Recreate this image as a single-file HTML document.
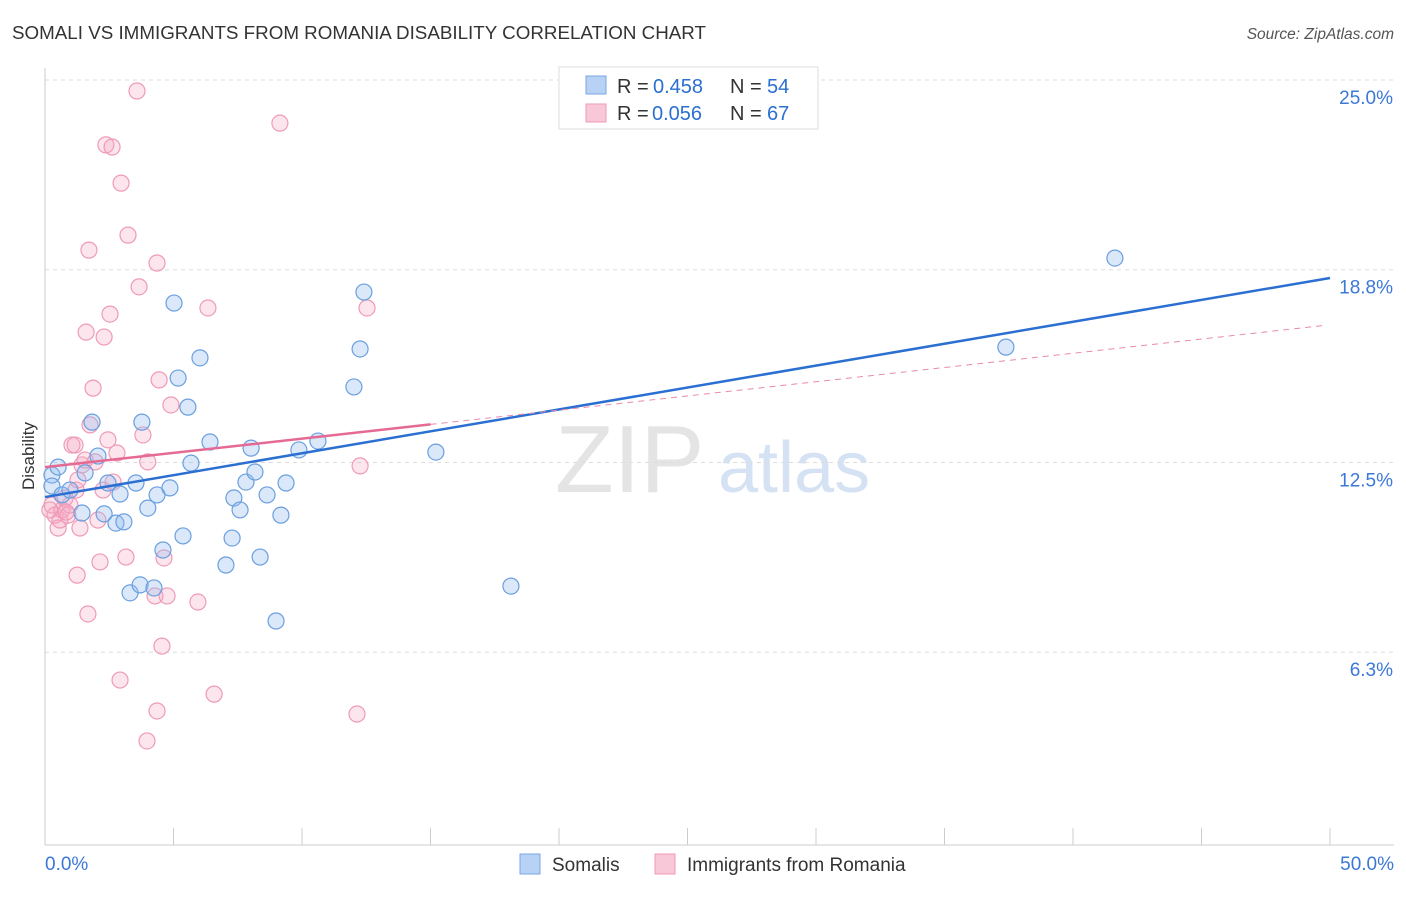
<!DOCTYPE html>
<html><head><meta charset="utf-8"><style>
body{margin:0;background:#fff;font-family:"Liberation Sans",sans-serif;}
svg text{font-family:"Liberation Sans",sans-serif;}
</style></head><body>
<svg width="1406" height="892" id="c">
<text x="12" y="39" font-size="18" fill="#333" textLength="694" lengthAdjust="spacingAndGlyphs">SOMALI VS IMMIGRANTS FROM ROMANIA DISABILITY CORRELATION CHART</text>
<text x="1394" y="39" font-size="15.5" fill="#555" text-anchor="end" font-style="italic">Source: ZipAtlas.com</text>
<text x="555" y="492" font-size="96" fill="#e4e4e4" font-family="Liberation Serif">ZIP</text>
<text x="718" y="492" font-size="72" fill="#d4e2f4">atlas</text>
<g id="grid"></g><g id="marks"></g>
<text x="34" y="456" font-size="17" fill="#333" transform="rotate(-90 34 456)" text-anchor="middle">Disability</text>
<g>
<rect x="559" y="67" width="259" height="62" fill="#fff" stroke="#ddd"/>
<rect x="586" y="76" width="20" height="18" fill="#b7d2f4" stroke="#7aa8e4"/>
<text x="617" y="93" font-size="20" fill="#333">R = </text><text x="653" y="93" font-size="20" fill="#2a6fd1">0.458</text>
<text x="730" y="93" font-size="20" fill="#333">N = </text><text x="767" y="93" font-size="20" fill="#2a6fd1">54</text>
<rect x="586" y="104" width="20" height="18" fill="#f9c8d8" stroke="#ef9ab6"/>
<text x="617" y="120" font-size="20" fill="#333">R = </text><text x="652" y="120" font-size="20" fill="#2a6fd1">0.056</text>
<text x="730" y="120" font-size="20" fill="#333">N = </text><text x="767" y="120" font-size="20" fill="#2a6fd1">67</text>
</g>
<g>
<rect x="520" y="854" width="20" height="20" fill="#b7d2f4" stroke="#7aa8e4"/>
<text x="552" y="871" font-size="19" fill="#333">Somalis</text>
<rect x="655" y="854" width="20" height="20" fill="#f9c8d8" stroke="#ef9ab6"/>
<text x="687" y="871" font-size="19" fill="#333">Immigrants from Romania</text>
</g>
</svg>
<script>
const yTicks=[25.0,18.8,12.5,6.3];
const yTickLabels=["25.0%","18.8%","12.5%","6.3%"];
const xTickLabels=["0.0%","50.0%"];
const blueX=[0.27,0.51,0.27,0.66,0.97,1.44,1.56,1.83,2.06,2.30,2.45,2.76,2.92,3.07,3.31,3.54,3.70,3.77,4.0,4.24,4.36,4.59,4.86,5.02,5.18,5.37,5.56,5.68,6.03,6.42,7.04,7.28,7.35,7.59,7.82,8.02,8.17,8.37,8.64,8.99,9.18,9.38,9.88,10.62,12.02,12.26,12.41,15.21,18.13,37.39,41.63];
const blueY=[12.09,12.35,11.73,11.44,11.6,10.85,12.16,13.82,12.71,10.82,11.83,10.52,11.47,10.56,8.24,11.83,8.5,13.82,11.01,8.4,11.44,9.64,11.67,17.71,15.26,10.1,14.31,12.48,15.92,13.17,9.15,10.03,11.34,10.95,11.86,12.97,12.19,9.41,11.44,7.32,10.78,11.83,12.91,13.2,14.97,16.21,18.07,12.84,8.46,16.27,19.18];
const pinkX=[0.27,0.39,0.51,0.58,0.66,0.78,0.89,0.97,1.05,1.17,1.21,1.25,1.36,1.44,1.56,1.60,1.67,1.71,1.75,1.95,2.06,2.14,2.26,2.30,2.37,2.45,2.53,2.61,2.65,2.80,2.92,2.96,3.15,3.23,3.58,3.66,3.81,3.97,4.0,4.28,4.36,4.36,4.44,4.55,4.63,4.75,4.90,5.95,6.34,6.58,9.14,12.14,12.26,12.53,1.87,1.28,0.82,0.19];
const pinkY=[11.11,10.78,10.36,10.62,10.95,11.34,10.78,11.11,13.07,13.07,11.6,8.82,10.36,12.42,12.58,16.76,7.55,19.44,13.73,12.52,10.62,9.25,11.6,16.6,22.88,13.24,17.35,22.81,11.86,12.81,5.39,21.63,9.41,19.93,24.64,18.24,13.4,3.4,12.52,8.14,4.38,19.02,15.2,6.5,9.38,8.14,14.38,7.94,17.55,4.93,23.59,4.28,12.39,17.55,14.93,11.93,10.88,10.95];
const blueTrend=[11.37,18.53];
const pinkTrend=[12.35,17.0];
const X=v=>45+v*25.7, Y=v=>80+(25-v)*30.6;
const NS="http://www.w3.org/2000/svg";
const grid=document.getElementById('grid'), marks=document.getElementById('marks');
function mk(tag,attrs,parent){const e=document.createElementNS(NS,tag);for(const k in attrs)e.setAttribute(k,attrs[k]);parent.appendChild(e);return e;}
yTicks.forEach((t,i)=>{
 const l=mk('line',{x1:45,x2:1394,y1:Y(t),y2:Y(t),stroke:'#ddd','stroke-dasharray':'4,4'},grid);
 
 
 const tx=mk('text',{x:1393,y:Y(t)+24,'font-size':19,fill:'#3b78d8','text-anchor':'end'},grid);
 tx.textContent=yTickLabels[i];
 
 
});
mk('line',{x1:45,x2:45,y1:68,y2:845,stroke:'#ccc'},grid);
mk('line',{x1:45,x2:1394,y1:845,y2:845,stroke:'#ccc'},grid);
for(let i=0;i<=10;i++){const t=mk('line',{x1:X(i*5),x2:X(i*5),y1:828,y2:845,stroke:'#ccc'},grid);
 
 }
[[0,'start',45],[1,'end',1394]].forEach(([i,a,x])=>{const t=mk('text',{x:x,y:870,'font-size':19,fill:'#3b78d8','text-anchor':a},grid);t.textContent=xTickLabels[i];
 
 });
pinkX.forEach((v,i)=>{const c=mk('circle',{cx:X(v),cy:Y(pinkY[i]),r:8,fill:'rgba(245,170,195,0.3)',stroke:'#ef9ab6','stroke-width':1.2},marks);
 
 });
blueX.forEach((v,i)=>{const c=mk('circle',{cx:X(v),cy:Y(blueY[i]),r:8,fill:'rgba(150,190,240,0.35)',stroke:'#6a9fe0','stroke-width':1.2},marks);
 
 });
const pAt=x=>pinkTrend[0]+(pinkTrend[1]-pinkTrend[0])*x/50;
const bl=mk('line',{x1:X(0),y1:Y(blueTrend[0]),x2:X(50),y2:Y(blueTrend[1]),stroke:'#2a6fd1','stroke-width':2.5},marks);


const pl=mk('line',{x1:X(0),y1:Y(pAt(0)),x2:X(15),y2:Y(pAt(15)),stroke:'#e56a93','stroke-width':2.5},marks);


const pd=mk('line',{x1:X(15),y1:Y(pAt(15)),x2:X(49.8),y2:Y(pAt(49.8)),stroke:'#e88aa8','stroke-width':1,'stroke-dasharray':'6,5'},marks);


</script>
</body></html>
